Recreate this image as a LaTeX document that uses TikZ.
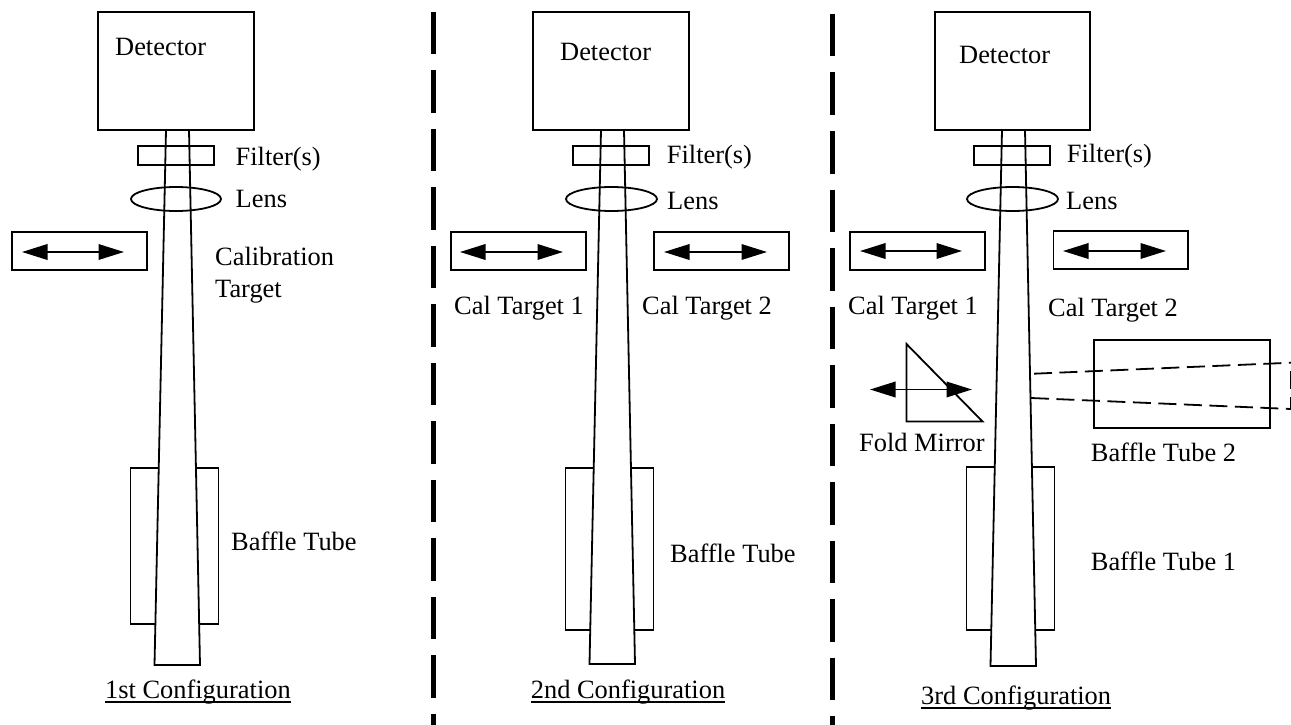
\documentclass[tikz,border=0pt]{standalone}
\usepackage{fontspec}
\setmainfont{Liberation Serif}
\usetikzlibrary{arrows.meta}
\newcommand{\cfgunderline}[1]{\setbox0=\hbox{#1}\rlap{\rule[-4.7pt]{\wd0}{1.8pt}}#1}
\tikzset{
        opt_line/.style={draw=black, line width=1.8pt},
        beam_line/.style={opt_line, fill=white},
        move_arrow/.style={line width=1.9pt, {Triangle[length=25.5pt,width=15.5pt]}-{Triangle[length=25.5pt,width=15.5pt]}},
        sep_line/.style={draw=black, line width=5.5pt, dash pattern=on 42.5pt off 16pt},
        ray_line/.style={draw=black, line width=1.8pt, dash pattern=on 18pt off 7.5pt},
        lbl_text/.style={anchor=base west, inner sep=0pt, font=\fontsize{26.4}{30}\selectfont}
    }
\begin{document}
\begin{tikzpicture}[x=1pt, y=-1pt]
    \useasboundingbox (0,0) rectangle (1291,725);
    \draw[sep_line] (433.7,11.7) -- (433.7,725);
    \draw[sep_line] (832.7,14) -- (832.7,725);
    % first setup
    \begin{scope}
        \draw[opt_line] (130.5,468) rectangle (218.5,624);
        \draw[beam_line] (166,130) -- (189,130) -- (200,665) -- (154.5,665) -- cycle;
        \draw[opt_line] (98,12) rectangle (254,130);
        \draw[opt_line] (138,146) rectangle (214,165);
        \draw[opt_line] (176,199) ellipse [x radius=45, y radius=12];
        \draw[opt_line] (12,232) rectangle (147,270);
        \draw[move_arrow] (22,252) -- (124,252);
        \node[lbl_text] (det_one) at (115,56) {Detector};
        \node[lbl_text] (fil_one) at (235.5,165.5) {Filter(s)};
        \node[lbl_text] (lens_one) at (235.5,207) {Lens};
        \node[lbl_text] (cal_one) at (215,265) {Calibration};
        \node[lbl_text] (tgt_one) at (215,297) {Target};
        \node[lbl_text] (baf_one) at (231,550) {Baffle Tube};
        \node[lbl_text] (cfg_one) at (105,698) {\cfgunderline{1st Configuration}};
    \end{scope}
    % second setup
    \begin{scope}[xshift=435pt]
        \draw[opt_line] (130.5,468) rectangle (218.5,630);
        \draw[beam_line] (166,130) -- (189,130) -- (200,664) -- (154.5,664) -- cycle;
        \draw[opt_line] (98,12) rectangle (254,130);
        \draw[opt_line] (138,146) rectangle (214,165);
        \draw[opt_line] (176.5,199) ellipse [x radius=45.5, y radius=12];
        \draw[opt_line] (16,232) rectangle (151,270);
        \draw[move_arrow] (25,252) -- (128,252);
        \draw[opt_line] (219,232) rectangle (354,270);
        \draw[move_arrow] (229,252) -- (332,252);
        \node[lbl_text] (det_two) at (125,60) {Detector};
        \node[lbl_text] (fil_two) at (231.7,163) {Filter(s)};
        \node[lbl_text] (lens_two) at (232,209) {Lens};
        \node[lbl_text] (tgt_two_a) at (19,314) {Cal Target 1};
        \node[lbl_text] (tgt_two_b) at (207,314) {Cal Target 2};
        \node[lbl_text] (baf_two) at (235,562) {Baffle Tube};
        \node[lbl_text] (cfg_two) at (95.7,698) {\cfgunderline{2nd Configuration}};
    \end{scope}
    % third setup
    \begin{scope}[xshift=836pt]
        \draw[opt_line] (130.5,467) rectangle (218.5,630);
        \draw[beam_line] (166,130) -- (189,130) -- (200,666) -- (154.5,666) -- cycle;
        \draw[opt_line] (99,12) rectangle (254,130);
        \draw[opt_line] (138,146) rectangle (214,165);
        \draw[opt_line] (176.5,199) ellipse [x radius=45.5, y radius=12];
        \draw[opt_line] (14,232) rectangle (149,270);
        \draw[move_arrow] (24,251) -- (126,251);
        \draw[opt_line] (217.5,231) rectangle (352,269);
        \draw[move_arrow] (227,251) -- (330,251);
        \draw[opt_line] (70.5,344) -- (70.5,421.5) -- (146.5,421.5) -- cycle;
        \draw[move_arrow] (34,389.5) -- (136,389.5);
        \draw[opt_line] (258.3,340) rectangle (434,428);
        \draw[ray_line] (198,373.7) -- (455,362.7);
        \draw[ray_line] (195,398) -- (455,409);
        \draw[ray_line] (454.7,371) -- (454.7,408);
        \node[lbl_text] (det_three) at (123,64) {Detector};
        \node[lbl_text] (fil_three) at (230.7,162) {Filter(s)};
        \node[lbl_text] (lens_three) at (230,209) {Lens};
        \node[lbl_text] (tgt_three_a) at (12,314) {Cal Target 1};
        \node[lbl_text] (tgt_three_b) at (212,316) {Cal Target 2};
        \node[lbl_text] (fold_three) at (23,451.7) {Fold Mirror};
        \node[lbl_text] (baf_three_b) at (254.7,461.7) {Baffle Tube 2};
        \node[lbl_text] (baf_three_a) at (254.7,570) {Baffle Tube 1};
        \node[lbl_text] (cfg_three) at (85,704) {\cfgunderline{3rd Configuration}};
    \end{scope}
\end{tikzpicture}
\end{document}
